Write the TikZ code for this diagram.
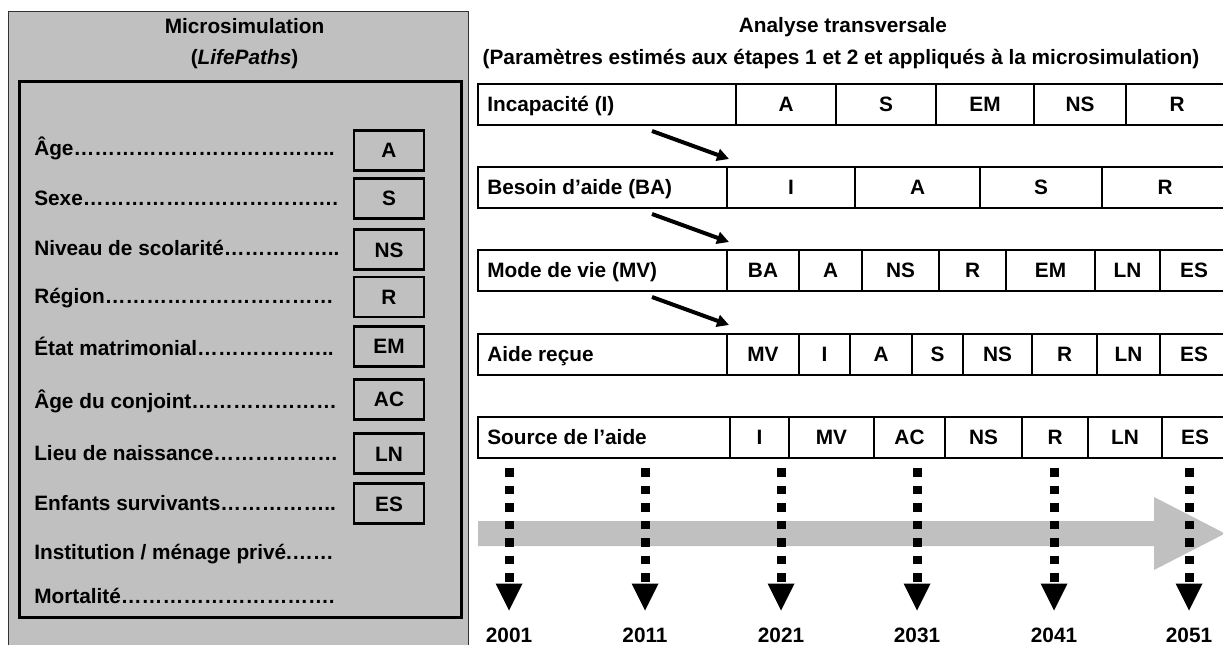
\documentclass[tikz,border=0pt]{standalone}
\usepackage{fontspec}
\setmainfont{Liberation Sans}
\usetikzlibrary{arrows.meta}
\definecolor{panelgray}{RGB}{192,192,192}
\newcommand{\rcell}[6]{\node[cellsty, minimum width={(#3-#2)*0.75pt}, minimum height={(#5-#4)*0.75pt}] (#1) at ({(#2+#3)/2},{(#4+#5)/2}) {#6};}
\newcommand{\ellipx}[1]{\ifnum#1>0 …\expandafter\ellipx\expandafter{\the\numexpr#1-1\relax}\fi}
\begin{document}
\begin{tikzpicture}[x=0.75pt,y=-0.75pt,
  every node/.style={font=\fontsize{15.6}{18}\selectfont\bfseries, inner sep=0pt},
  lbl/.style={anchor=base west},
  vbox/.style={draw, line width=2pt, minimum width=52.5pt, minimum height=30pt, text height=11pt, text depth=0pt},
  cellsty/.style={draw, line width=2pt, text height=11pt, text depth=0pt},
  rowlbl/.style={anchor=west, text height=11pt, text depth=0pt},
  yearlbl/.style={anchor=base},
  dotsty/.style={line width=6.75pt, dash pattern=on 6.375pt off 6.75pt},
  diag/.style={line width=3pt, -{Triangle[length=9pt,width=9pt]}},
  tri/.style={fill=black}
]
\useasboundingbox (0,0) rectangle (1223,645);
\clip (0,0) rectangle (1223,645);

% ---------- left panel ----------
\draw[fill=panelgray, draw=black!80, line width=0.9pt] (8.5,11.5) rectangle (468.7,660);
\node[anchor=base] (t1) at (244.5,33.3) {Microsimulation};
\node[anchor=base] (t2) at (244.5,65) {(\textit{LifePaths})};
\draw[line width=2.3pt] (19.5,81.7) rectangle (461.7,617.5);

\node[lbl] (l1) at (34,155.7) {Âge\ellipx{12}..};
\node[lbl] (l2) at (34,206) {Sexe\ellipx{12}.};
\node[lbl] (l3) at (34,255) {Niveau de scolarité\ellipx{5}..};
\node[lbl] (l4) at (34,303.3) {Région\ellipx{11}};
\node[lbl] (l5) at (34,355) {État matrimonial\ellipx{6}..};
\node[lbl] (l6) at (34,408.3) {Âge du conjoint\ellipx{7}};
\node[lbl] (l7) at (34,460) {Lieu de naissance\ellipx{6}};
\node[lbl] (l8) at (34,510) {Enfants survivants\ellipx{5}..};
\node[lbl] (l9) at (34,559.3) {Institution / ménage privé.\ellipx{2}};
\node[lbl] (l10) at (34,603.3) {Mortalité\ellipx{10}.};

\node[vbox] (bA) at (389,150.3) {A};
\node[vbox] (bS) at (389,198.5) {S};
\node[vbox] (bNS) at (389,249.8) {NS};
\node[vbox] (bR) at (389,297) {R};
\node[vbox] (bEM) at (389,346.4) {EM};
\node[vbox] (bAC) at (389,399.6) {AC};
\node[vbox] (bLN) at (389,453.7) {LN};
\node[vbox] (bES) at (389,503.7) {ES};

% ---------- right titles ----------
\node[anchor=base] (rt1) at (843,33) {Analyse transversale};
\node[anchor=base] (rt2) at (841,65) {(Paramètres estimés aux étapes 1 et 2 et appliqués à la microsimulation)};

% ---------- row 1 ----------
\rcell{r1c0}{478}{736}{84}{125}{}
\node[rowlbl] (r1l) at (487,104.5) {Incapacité (I)};
\rcell{r1c1}{736}{836}{84}{125}{A}
\rcell{r1c2}{836}{936}{84}{125}{S}
\rcell{r1c3}{936}{1034}{84}{125}{EM}
\rcell{r1c4}{1034}{1126}{84}{125}{NS}
\rcell{r1c5}{1126}{1228}{84}{125}{R}
% ---------- row 2 ----------
\rcell{r2c0}{478}{727}{167}{208}{}
\node[rowlbl] (r2l) at (487,187.5) {Besoin d’aide (BA)};
\rcell{r2c1}{727}{855}{167}{208}{I}
\rcell{r2c2}{855}{980}{167}{208}{A}
\rcell{r2c3}{980}{1102}{167}{208}{S}
\rcell{r2c4}{1102}{1228}{167}{208}{R}
% ---------- row 3 ----------
\rcell{r3c0}{478}{727}{250}{291}{}
\node[rowlbl] (r3l) at (487,270.5) {Mode de vie (MV)};
\rcell{r3c1}{727}{799}{250}{291}{BA}
\rcell{r3c2}{799}{862}{250}{291}{A}
\rcell{r3c3}{862}{939}{250}{291}{NS}
\rcell{r3c4}{939}{1006}{250}{291}{R}
\rcell{r3c5}{1006}{1095}{250}{291}{EM}
\rcell{r3c6}{1095}{1160}{250}{291}{LN}
\rcell{r3c7}{1160}{1228}{250}{291}{ES}
% ---------- row 4 ----------
\rcell{r4c0}{478}{727}{334}{375}{}
\node[rowlbl] (r4l) at (487,354.5) {Aide reçue};
\rcell{r4c1}{727}{799}{334}{375}{MV}
\rcell{r4c2}{799}{850}{334}{375}{I}
\rcell{r4c3}{850}{912}{334}{375}{A}
\rcell{r4c4}{912}{963}{334}{375}{S}
\rcell{r4c5}{963}{1032}{334}{375}{NS}
\rcell{r4c6}{1032}{1097}{334}{375}{R}
\rcell{r4c7}{1097}{1160}{334}{375}{LN}
\rcell{r4c8}{1160}{1228}{334}{375}{ES}
% ---------- row 5 ----------
\rcell{r5c0}{478}{730}{417}{458}{}
\node[rowlbl] (r5l) at (487,437.5) {Source de l’aide};
\rcell{r5c1}{730}{789}{417}{458}{I}
\rcell{r5c2}{789}{874}{417}{458}{MV}
\rcell{r5c3}{874}{945}{417}{458}{AC}
\rcell{r5c4}{945}{1022}{417}{458}{NS}
\rcell{r5c5}{1022}{1088}{417}{458}{R}
\rcell{r5c6}{1088}{1162}{417}{458}{LN}
\rcell{r5c7}{1162}{1228}{417}{458}{ES}

% ---------- diagonal arrows ----------
\coordinate (a1s) at (652,131); \coordinate (a1e) at (729,159);
\coordinate (a2s) at (652,214); \coordinate (a2e) at (729,242);
\coordinate (a3s) at (652,297); \coordinate (a3e) at (729,325);
\draw[diag] (a1s) -- (a1e);
\draw[diag] (a2s) -- (a2e);
\draw[diag] (a3s) -- (a3e);

% ---------- time arrow ----------
\fill[panelgray] (478,521) -- (1154,521) -- (1154,497) -- (1225,533.5) -- (1154,570) -- (1154,546) -- (478,546) -- cycle;

% ---------- dotted arrows and years ----------
\foreach \i/\x/\yr in {1/509/2001, 2/645/2011, 3/781/2021, 4/917/2031, 5/1054/2041, 6/1189/2051}{
  \coordinate (d\i) at (\x,468);
  \coordinate (e\i) at (\x,582);
  \draw[dotsty] (d\i) -- (e\i);
  \fill[tri] (\x-13.5,583.5) -- (\x+13.5,583.5) -- (\x,610.5) -- cycle;
  \node[yearlbl] (y\i) at (\x,642) {\yr};
}
\end{tikzpicture}
\end{document}
